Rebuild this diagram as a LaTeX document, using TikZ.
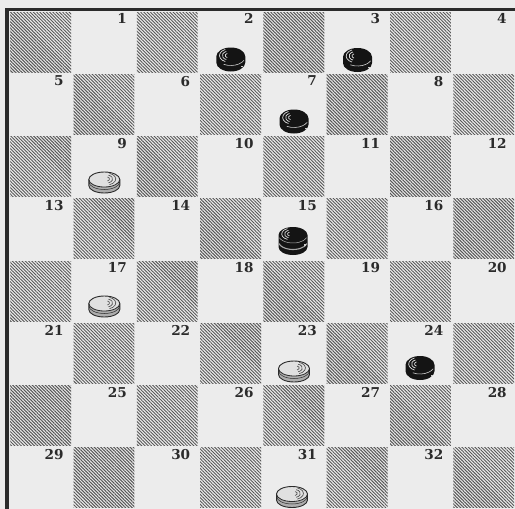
\documentclass[tikz,border=0pt]{standalone}
\usepackage{fontspec}
\newfontfamily\numfont{DejaVu Serif}
\usetikzlibrary{patterns.meta}
\definecolor{paper}{gray}{0.925}
\definecolor{ink}{gray}{0.17}
\definecolor{hatch}{gray}{0.34}
\definecolor{wpiece}{gray}{0.88}
\definecolor{wside}{gray}{0.68}
\definecolor{bk}{gray}{0.08}
\tikzset{
  darksq/.style={pattern={Lines[angle=-45,distance=2.3pt,line width=0.95pt]}, pattern color=hatch},
  numlab/.style={anchor=north east, inner sep=0pt, text=ink, font=\numfont\fontsize{13.6}{15}\selectfont\bfseries},
  bpiece/.pic={
    \fill[bk] (-14.5,-15) -- (-14.5,-9) arc[start angle=180,end angle=0,x radius=14.5,y radius=9]
      -- (14.5,-15) arc[start angle=0,end angle=-180,x radius=14.5,y radius=9] -- cycle;
    \draw[white!80!black, line width=0.6pt] ([shift={(0,-15)}]25:14.5 and 9) arc[start angle=25,end angle=120,x radius=14.5,y radius=9];
    \foreach \rr in {2.8,5.4,8}
      \draw[white!88!black, line width=0.7pt] ([shift={(-2.5,-16)}]110:\rr*1.1 and \rr*0.8) arc[start angle=110,end angle=250,x radius=\rr*1.1,y radius=\rr*0.8];
    \fill[white!80!black] (10.5,-5.5) rectangle (12.5,-4.2);
  },
  kpiece/.pic={
    \fill[bk] (-14.5,-20) -- (-14.5,-8) arc[start angle=180,end angle=0,x radius=14.5,y radius=8]
      -- (14.5,-20) arc[start angle=0,end angle=-180,x radius=14.5,y radius=8] -- cycle;
    \draw[white!70!black, line width=0.5pt] ([shift={(0,-20)}]20:14.5 and 8) arc[start angle=20,end angle=160,x radius=14.5,y radius=8];
    \draw[white!65!black, line width=1.1pt] ([shift={(0,-13.5)}]15:14.5 and 8) arc[start angle=15,end angle=165,x radius=14.5,y radius=8];
    \foreach \rr in {2.8,5.4,8}
      \draw[white!88!black, line width=0.7pt] ([shift={(-2.5,-21)}]110:\rr*1.1 and \rr*0.72) arc[start angle=110,end angle=250,x radius=\rr*1.1,y radius=\rr*0.72];
    \fill[white!80!black] (10.5,-11) rectangle (12.5,-9.5);
  },
  wpiece/.pic={
    \fill[wside] (-15.5,-13.5) -- (-15.5,-7.5) arc[start angle=180,end angle=0,x radius=15.5,y radius=7.5]
      -- (15.5,-13.5) arc[start angle=0,end angle=-180,x radius=15.5,y radius=7.5] -- cycle;
    \fill[wpiece] (0,-13.5) ellipse[x radius=15.5,y radius=7.5];
    \draw[ink, line width=0.5pt] (-15.3,-11) arc[start angle=180,end angle=0,x radius=15.3,y radius=7.5];
    \draw[ink, line width=0.9pt] (-15.5,-13.5) -- (-15.5,-7.5) arc[start angle=180,end angle=0,x radius=15.5,y radius=7.5]
      -- (15.5,-13.5) arc[start angle=0,end angle=-180,x radius=15.5,y radius=7.5] -- cycle;
    \draw[ink, line width=0.8pt] (-15.5,-13.5) arc[start angle=180,end angle=0,x radius=15.5,y radius=7.5];
    \foreach \rr in {3,5.8,8.6}
      \draw[ink!85, line width=0.65pt] ([shift={(2,-14)}]-70:\rr*1.1 and \rr*0.7) arc[start angle=-70,end angle=70,x radius=\rr*1.1,y radius=\rr*0.7];
  }
}
\begin{document}
\begin{tikzpicture}[x=1pt,y=-1pt]
\useasboundingbox (0,0) rectangle (515,509);
\fill[paper] (0,0) rectangle (515,509);
\foreach \r in {0,...,7} {
  \foreach \c in {0,...,7} {
    \pgfmathtruncatemacro\odd{mod(\r+\c,2)}
    \ifnum\odd=0
      \path[darksq] ({9+63.3*\c+1.2},{11+62.25*\r+1.2}) rectangle ({9+63.3*(\c+1)-1.2},{11+62.25*(\r+1)-1.2});
    \else
      \pgfmathtruncatemacro\num{4*\r+int(\c/2)+1}
      \node[numlab] (n\num) at ({9+63.3*(\c+1)-8.5},{11+62.25*\r+2.5}) {\num};
    \fi
  }
}
\draw[ink, line width=2.5pt] (5,9.6) -- (515,9.6);
\draw[ink, line width=3.6pt] (7.2,8.4) -- (7.2,509);
% black pieces
\pic (b2) at (230.8,71.5) {bpiece};
\pic (b3) at (357.5,72) {bpiece};
\pic (b7) at (294,133.5) {bpiece};
\pic (k15) at (293,255) {kpiece};
\pic (b24) at (420,380) {bpiece};
% white pieces
\pic (w9) at (104.3,193) {wpiece};
\pic (w17) at (104.3,317) {wpiece};
\pic (w23) at (294,382) {wpiece};
\pic (w31) at (292,507.5) {wpiece};
\end{tikzpicture}
\end{document}
